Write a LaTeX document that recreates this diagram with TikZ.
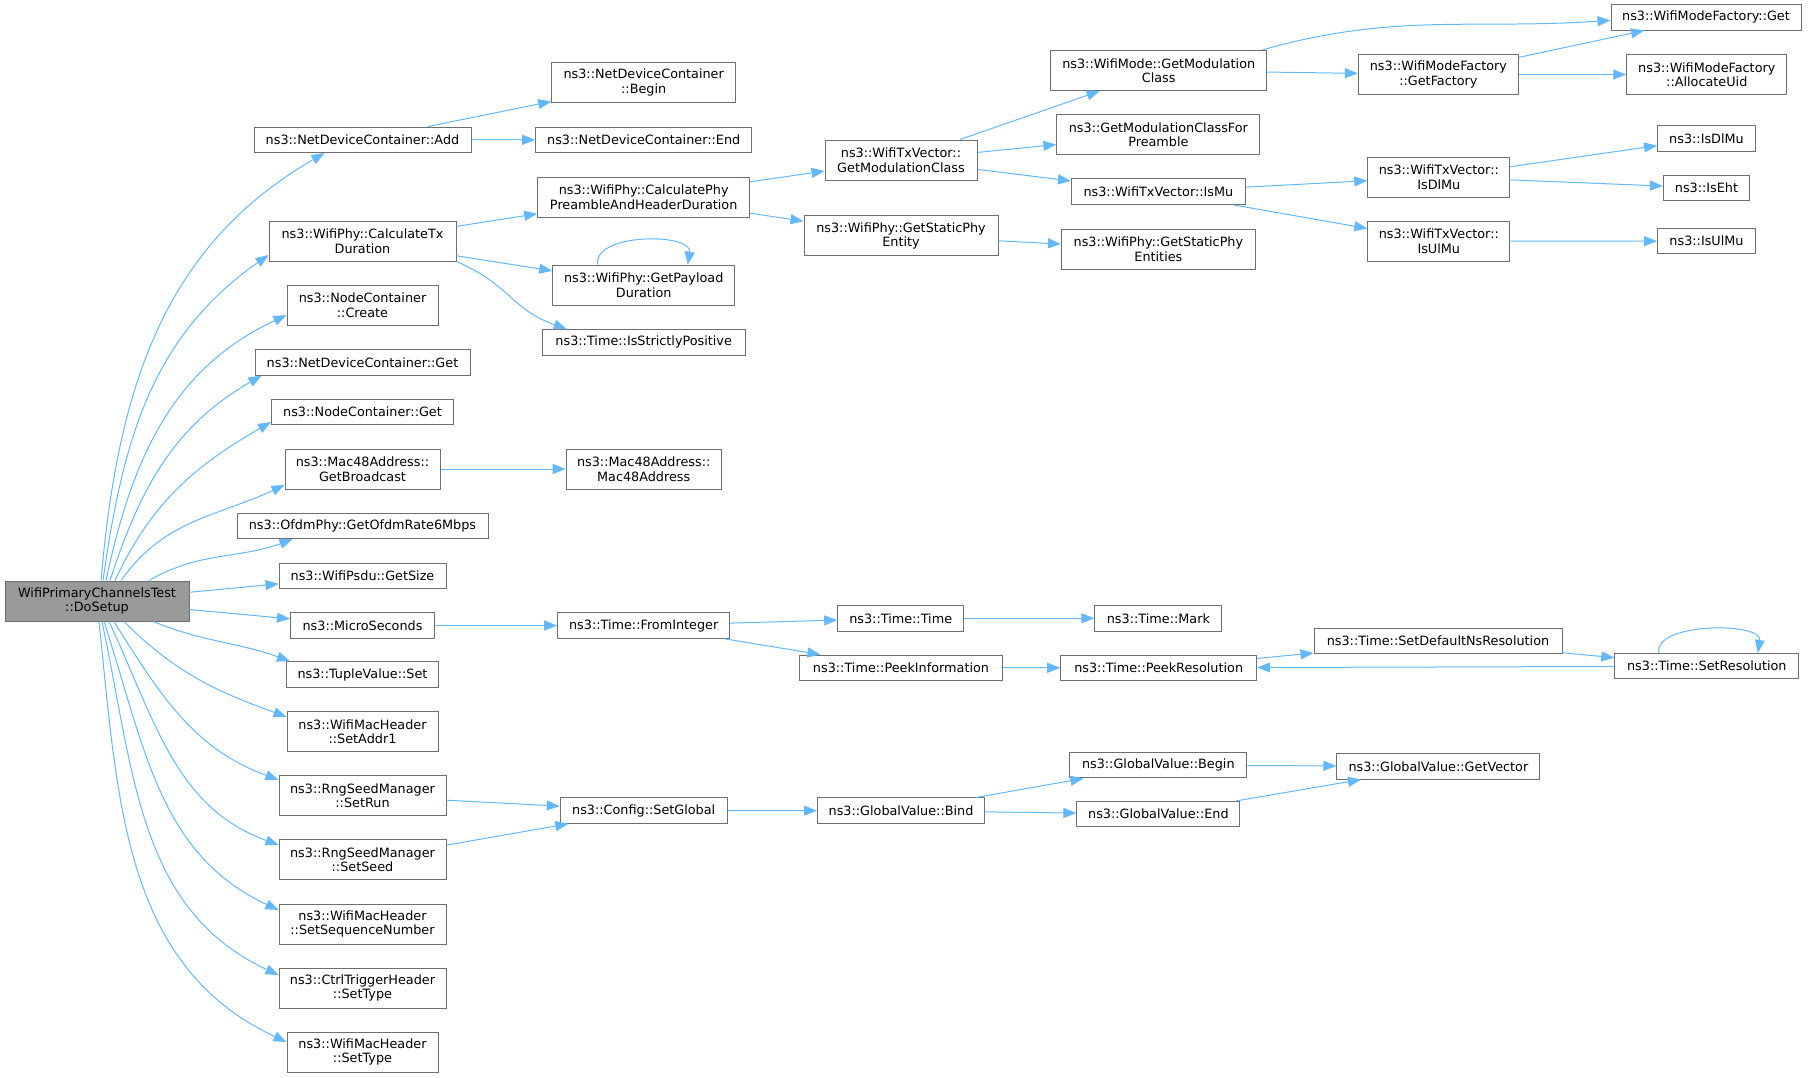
\documentclass[tikz,border=0pt]{standalone}
\usepackage{fontspec}
\setmainfont{DejaVu Sans}
\usetikzlibrary{arrows.meta}
\definecolor{edgeblue}{HTML}{63B8FF}
\definecolor{boxgray}{HTML}{6E6E6E}
\definecolor{rootgray}{HTML}{999999}

\begin{document}
\begin{tikzpicture}[x=1pt, y=-1pt,
            fn/.style={draw=boxgray, line width=1pt, fill=white, inner xsep=3pt, inner ysep=1pt, minimum height=25.5pt, align=center, font=\fontsize{12.8}{14.5}\selectfont},
            fn2/.style={fn, minimum height=40pt},
            call/.style={draw=edgeblue, line width=1pt, -{Triangle[length=13pt, width=10pt]}}]
            \useasboundingbox (0,0) rectangle (1808,1077);

            \node[fn2, fill=rootgray, minimum width=184pt] (setup) at (97,601) {WifiPrimaryChannelsTest\\::DoSetup};

            \node[fn, minimum width=217pt] (add) at (362.5,139.8) {ns3::NetDeviceContainer::Add};
            \node[fn2, minimum width=187pt] (calctx) at (362.5,241) {ns3::WifiPhy::CalculateTx\\Duration};
            \node[fn2, minimum width=151pt] (create) at (362.5,305.1) {ns3::NodeContainer\\::Create};
            \node[fn, minimum width=215pt] (ndcget) at (362.5,362.3) {ns3::NetDeviceContainer::Get};
            \node[fn, minimum width=182pt] (ncget) at (362.5,412) {ns3::NodeContainer::Get};
            \node[fn2, minimum width=155pt] (bcast) at (362.5,469) {ns3::Mac48Address::\\GetBroadcast};
            \node[fn, minimum width=251pt] (ofdm) at (362.5,526) {ns3::OfdmPhy::GetOfdmRate6Mbps};
            \node[fn, minimum width=167pt] (getsize) at (362.5,576) {ns3::WifiPsdu::GetSize};
            \node[fn, minimum width=144pt] (micro) at (362.5,625.5) {ns3::MicroSeconds};
            \node[fn, minimum width=152pt] (tupleset) at (362.5,674.5) {ns3::TupleValue::Set};
            \node[fn2, minimum width=151pt] (addr1) at (362.5,731.8) {ns3::WifiMacHeader\\::SetAddr1};
            \node[fn2, minimum width=167pt] (setrun) at (362.5,795.8) {ns3::RngSeedManager\\::SetRun};
            \node[fn2, minimum width=167pt] (setseed) at (362.5,859.9) {ns3::RngSeedManager\\::SetSeed};
            \node[fn2, minimum width=167pt] (seqnum) at (362.5,924) {ns3::WifiMacHeader\\::SetSequenceNumber};
            \node[fn2, minimum width=167pt] (trigtype) at (362.5,988) {ns3::CtrlTriggerHeader\\::SetType};
            \node[fn2, minimum width=151pt] (mactype) at (362.5,1052) {ns3::WifiMacHeader\\::SetType};

            \node[fn2, minimum width=184pt] (ndcbegin) at (643.7,82.7) {ns3::NetDeviceContainer\\::Begin};
            \node[fn, minimum width=216pt] (ndcend) at (643.7,139.8) {ns3::NetDeviceContainer::End};
            \node[fn2, minimum width=212pt] (preamble) at (643.7,197.2) {ns3::WifiPhy::CalculatePhy\\PreambleAndHeaderDuration};
            \node[fn2, minimum width=182pt] (payload) at (643.7,285.2) {ns3::WifiPhy::GetPayload\\Duration};
            \node[fn, minimum width=203pt] (positive) at (643.7,342.3) {ns3::Time::IsStrictlyPositive};
            \node[fn2, minimum width=155pt] (mac48) at (643.7,469) {ns3::Mac48Address::\\Mac48Address};
            \node[fn, minimum width=172pt] (fromint) at (643.7,625.5) {ns3::Time::FromInteger};
            \node[fn, minimum width=167pt] (setglobal) at (643.7,810.5) {ns3::Config::SetGlobal};

            \node[fn2, minimum width=152pt] (txmod) at (901,160) {ns3::WifiTxVector::\\GetModulationClass};
            \node[fn2, minimum width=194pt] (phyentity) at (901,235.8) {ns3::WifiPhy::GetStaticPhy\\Entity};
            \node[fn, minimum width=126pt] (timetime) at (900.7,618.3) {ns3::Time::Time};
            \node[fn, minimum width=203pt] (peekinfo) at (901,667.8) {ns3::Time::PeekInformation};
            \node[fn, minimum width=167pt] (bind) at (901,810.7) {ns3::GlobalValue::Bind};

            \node[fn2, minimum width=216pt] (modemod) at (1158.7,70.5) {ns3::WifiMode::GetModulation\\Class};
            \node[fn2, minimum width=203pt] (forpreamble) at (1158.4,134.5) {ns3::GetModulationClassFor\\Preamble};
            \node[fn, minimum width=174pt] (ismu) at (1158.4,191.7) {ns3::WifiTxVector::IsMu};
            \node[fn2, minimum width=194pt] (phyentities) at (1158.4,249) {ns3::WifiPhy::GetStaticPhy\\Entities};
            \node[fn, minimum width=127pt] (mark) at (1158.4,618.3) {ns3::Time::Mark};
            \node[fn, minimum width=196pt] (peekres) at (1158.7,667.8) {ns3::Time::PeekResolution};
            \node[fn, minimum width=177pt] (gvbegin) at (1158.3,765.2) {ns3::GlobalValue::Begin};
            \node[fn, minimum width=163pt] (gvend) at (1158.4,814.2) {ns3::GlobalValue::End};

            \node[fn2, minimum width=160pt] (factory) at (1438.4,74.5) {ns3::WifiModeFactory\\::GetFactory};
            \node[fn2, minimum width=142pt] (txisdlmu) at (1438.8,177) {ns3::WifiTxVector::\\IsDlMu};
            \node[fn2, minimum width=142pt] (txisulmu) at (1438.8,241) {ns3::WifiTxVector::\\IsUlMu};
            \node[fn, minimum width=248pt] (setdefault) at (1438,641.2) {ns3::Time::SetDefaultNsResolution};
            \node[fn, minimum width=203pt] (getvector) at (1438.4,766.3) {ns3::GlobalValue::GetVector};

            \node[fn, minimum width=190pt] (modeget) at (1706,17.3) {ns3::WifiModeFactory::Get};
            \node[fn2, minimum width=160pt] (allocuid) at (1706.8,74.5) {ns3::WifiModeFactory\\::AllocateUid};
            \node[fn, minimum width=98pt] (isdlmu) at (1706.5,138.5) {ns3::IsDlMu};
            \node[fn, minimum width=86pt] (iseht) at (1706.5,187.8) {ns3::IsEht};
            \node[fn, minimum width=98pt] (isulmu) at (1706.5,241.2) {ns3::IsUlMu};
            \node[fn, minimum width=184pt] (setres) at (1706.8,666.2) {ns3::Time::SetResolution};

            \draw[call] ([xshift=4pt]setup.north) to[out=85, in=-150] ([xshift=-38pt]add.south);
            \draw[call] ([xshift=6pt]setup.north) to[out=82, in=-145] ([yshift=-14pt]calctx.west);
            \draw[call] ([xshift=9pt]setup.north) to[out=78, in=-155] ([yshift=-10pt]create.west);
            \draw[call] ([xshift=13pt]setup.north) to[out=72, in=-150] ([xshift=7pt]ndcget.south west);
            \draw[call] ([xshift=18pt]setup.north) to[out=65, in=-150] ([yshift=-10pt]ncget.west);
            \draw[call] ([xshift=24pt]setup.north) to[out=55, in=-155] ([yshift=-16pt]bcast.west);
            \draw[call] ([xshift=52pt]setup.north) to[out=30, in=-160] ([xshift=56pt]ofdm.south west);
            \draw[call] (setup) -- (getsize);
            \draw[call] (setup) -- (micro);
            \draw[call] ([xshift=56pt]setup.south) to[out=-22, in=160] ([xshift=4pt]tupleset.north west);
            \draw[call] ([xshift=27pt]setup.south) to[out=-45, in=160] ([yshift=15pt]addr1.west);
            \draw[call] ([xshift=17pt]setup.south) to[out=-58, in=160] ([yshift=16pt]setrun.west);
            \draw[call] ([xshift=12pt]setup.south) to[out=-65, in=160] ([yshift=15pt]setseed.west);
            \draw[call] ([xshift=7pt]setup.south) to[out=-72, in=155] ([yshift=14pt]seqnum.west);
            \draw[call] ([xshift=5pt]setup.south) to[out=-78, in=155] ([yshift=13pt]trigtype.west);
            \draw[call] ([xshift=2pt]setup.south) to[out=-84, in=155] ([yshift=10pt]mactype.west);

            \draw[call] (add) -- (ndcbegin);
            \draw[call] (add) -- (ndcend);
            \draw[call] (calctx) -- (preamble);
            \draw[call] (calctx) -- (payload);
            \draw[call] (calctx.south east) .. controls +(55,24) and +(-56,-20) .. ([xshift=25pt]positive.north west);
            \draw[call] ([xshift=-46pt]payload.north) .. controls +(-5,-32) and +(5,-32) .. ([xshift=44pt]payload.north);
            \draw[call] (bcast) -- (mac48);
            \draw[call] (micro) -- (fromint);
            \draw[call] (setrun) -- (setglobal);
            \draw[call] (setseed) -- (setglobal);

            \draw[call] (preamble) -- (txmod);
            \draw[call] (preamble) -- (phyentity);
            \draw[call] (txmod) -- (modemod);
            \draw[call] (txmod) -- (forpreamble);
            \draw[call] (txmod) -- (ismu);
            \draw[call] (phyentity) -- (phyentities);
            \draw[call] ([xshift=-5pt]modemod.north east) to[out=16, in=-176] ([yshift=-3pt]modeget.west);
            \draw[call] (modemod) -- (factory);
            \draw[call] (factory) -- (modeget);
            \draw[call] (factory) -- (allocuid);
            \draw[call] (ismu) -- (txisdlmu);
            \draw[call] (ismu) -- (txisulmu);
            \draw[call] (txisdlmu) -- (isdlmu);
            \draw[call] (txisdlmu) -- (iseht);
            \draw[call] (txisulmu) -- (isulmu);

            \draw[call] (fromint) -- (timetime);
            \draw[call] (fromint) -- (peekinfo);
            \draw[call] (timetime) -- (mark);
            \draw[call] (peekinfo) -- (peekres);
            \draw[call] (peekres) -- (setdefault);
            \draw[call] (setdefault) -- (setres);
            \draw[call] (setres) -- (peekres);
            \draw[call] ([xshift=-48pt]setres.north) .. controls +(-5,-31) and +(5,-31) .. ([xshift=51pt]setres.north);
            \draw[call] (setglobal) -- (bind);
            \draw[call] (bind) -- (gvbegin);
            \draw[call] (bind) -- (gvend);
            \draw[call] (gvbegin) -- (getvector);
            \draw[call] (gvend) -- (getvector);
\end{tikzpicture}
\end{document}
